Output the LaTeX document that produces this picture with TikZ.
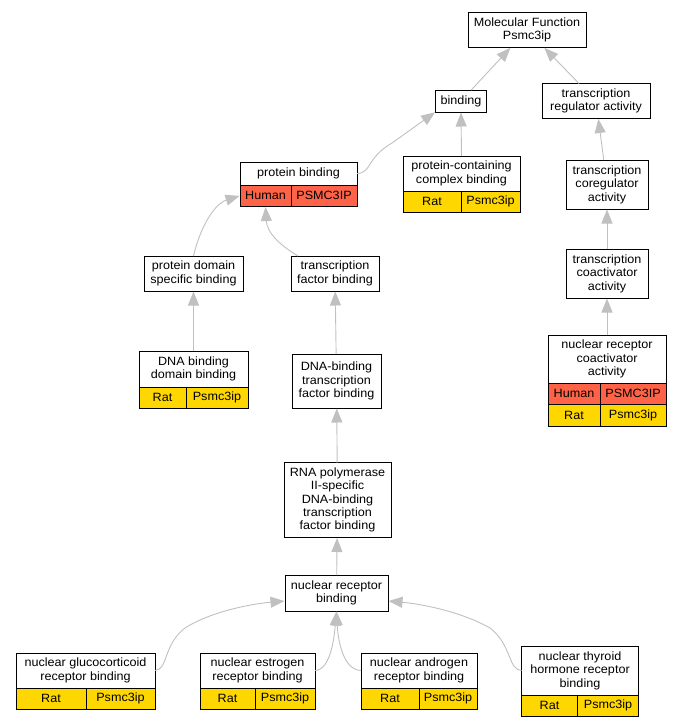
\documentclass[tikz,border=0pt]{standalone}
\usepackage{fontspec}
\setmainfont{Liberation Sans}[FakeStretch=1.05]
\usetikzlibrary{arrows.meta}
\definecolor{humanred}{HTML}{FF6347}
\definecolor{ratgold}{HTML}{FFD700}
\definecolor{edgegray}{HTML}{C0C0C0}
\tikzset{term/.style = {draw, fill=white, align=center, inner sep=1pt, outer sep=0pt,
                        line width=1pt, font=\fontsize{12}{13.4}\selectfont}}
\tikzset{cell/.style = {draw, line width=1pt, inner sep=0pt, outer sep=0pt, anchor=north west,
                        font=\fontsize{12}{13.4}\selectfont}}
\tikzset{human/.style = {cell, fill=humanred, minimum height=21.5}}
\tikzset{rat/.style = {cell, fill=ratgold, minimum height=21.5}}
\tikzset{isa/.style = {edgegray, line width=0.9pt, shorten >=0.5pt,
                       -{Triangle[length=14pt, width=11pt]}}}

\begin{document}
\begin{tikzpicture}[x=1pt, y=-1pt]
      \useasboundingbox (0, 0) rectangle (681, 728);

      \node [term, minimum width=118, minimum height=35] (mf) at (527, 30) {Molecular Function\\Psmc3ip};
      \node [term, minimum width=51, minimum height=22] (bind) at (461, 101) {binding};
      \node [term, minimum width=108, minimum height=35] (tra) at (596, 101) {transcription\\regulator activity};

      \node [term, minimum width=117, minimum height=23] (pb) at (298.5, 173.5) {protein binding};
      \node [human, minimum width=51] (pbh) at (pb.south west) {Human};
      \node [human, minimum width=66] (pbg) at (pbh.north east) {PSMC3IP};

      \node [term, minimum width=117, minimum height=35] (pcb) at (461.5, 173.5) {protein-containing\\complex binding};
      \node [rat, minimum width=58] (pcbr) at (pcb.south west) {Rat};
      \node [rat, minimum width=59] (pcbg) at (pcbr.north east) {Psmc3ip};

      \node [term, minimum width=82, minimum height=49] (tcr) at (607, 184.5) {transcription\\coregulator\\activity};
      \node [term, minimum width=99, minimum height=35] (pds) at (193.5, 273.5) {protein domain\\specific binding};
      \node [term, minimum width=88, minimum height=35] (tfb) at (335, 273.5) {transcription\\factor binding};
      \node [term, minimum width=82, minimum height=49] (tca) at (607, 273.5) {transcription\\coactivator\\activity};

      \node [term, minimum width=109, minimum height=36] (dbd) at (193.5, 369) {DNA binding\\domain binding};
      \node [rat, minimum width=47] (dbdr) at (dbd.south west) {Rat};
      \node [rat, minimum width=62] (dbdg) at (dbdr.north east) {Psmc3ip};

      \node [term, minimum width=89, minimum height=54] (dtf) at (336.5, 381) {DNA-binding\\transcription\\factor binding};

      \node [term, minimum width=118, minimum height=48] (nrca) at (607, 359) {nuclear receptor\\coactivator\\activity};
      \node [human, minimum width=52] (nrcah) at (nrca.south west) {Human};
      \node [human, minimum width=66] (nrcag) at (nrcah.north east) {PSMC3IP};
      \node [rat, minimum width=52] (nrcar) at (nrcah.south west) {Rat};
      \node [rat, minimum width=66] (nrcarg) at (nrcar.north east) {Psmc3ip};

      \node [term, minimum width=107, minimum height=75] (rnap) at (337.5, 500) {RNA polymerase\\II-specific\\DNA-binding\\transcription\\factor binding};
      \node [term, minimum width=103, minimum height=36] (nrb) at (336.5, 593) {nuclear receptor\\binding};

      \node [term, minimum width=139, minimum height=35] (gluc) at (85.5, 670.5) {nuclear glucocorticoid\\receptor binding};
      \node [rat, minimum width=70] (glucr) at (gluc.south west) {Rat};
      \node [rat, minimum width=69] (glucg) at (glucr.north east) {Psmc3ip};

      \node [term, minimum width=115, minimum height=35] (estr) at (257.5, 670.5) {nuclear estrogen\\receptor binding};
      \node [rat, minimum width=55] (estrr) at (estr.south west) {Rat};
      \node [rat, minimum width=60] (estrg) at (estrr.north east) {Psmc3ip};

      \node [term, minimum width=116, minimum height=35] (andr) at (419, 670.5) {nuclear androgen\\receptor binding};
      \node [rat, minimum width=58] (andrr) at (andr.south west) {Rat};
      \node [rat, minimum width=58] (andrg) at (andrr.north east) {Psmc3ip};

      \node [term, minimum width=117, minimum height=49] (thyr) at (580, 670.5) {nuclear thyroid\\hormone receptor\\binding};
      \node [rat, minimum width=56] (thyrr) at (thyr.south west) {Rat};
      \node [rat, minimum width=61] (thyrg) at (thyrr.north east) {Psmc3ip};

      \draw [isa] (bind) -- (mf);
      \draw [isa] (tra) -- (mf);
      \draw [isa] (pb.east) .. controls (372, 173) and (366, 158) .. (392, 143) -- (bind.south west);
      \draw [isa] (pcb.north) -- (bind.south);
      \draw [isa] (tcr) -- (tra);
      \draw [isa] (pds.north) .. controls (200, 228) and (214, 204) .. (pbh.west);
      \draw [isa] (tfb.north west) ++(7, 0) .. controls (278, 244) and (267, 232) .. (pbh.south);
      \draw [isa] (tca) -- (tcr);
      \draw [isa] (dbd) -- (pds);
      \draw [isa] (dtf) -- (tfb);
      \draw [isa] (nrca) -- (tca);
      \draw [isa] (rnap) -- (dtf);
      \draw [isa] (nrb) -- (rnap);
      \draw [isa] (gluc.east) .. controls (168, 670) and (163, 645) .. (185, 628) .. controls (210, 612) and (250, 604) .. (nrb.west |- 0, 601);
      \draw [isa] (estr.east) .. controls (330, 670) and (334, 640) .. (nrb.south);
      \draw [isa] (andr.west) .. controls (343, 670) and (338, 640) .. (nrb.south);
      \draw [isa] (thyr.west) .. controls (508, 670) and (512, 645) .. (490, 628) .. controls (462, 612) and (422, 604) .. (nrb.east |- 0, 601);
    \end{tikzpicture}
\end{document}
